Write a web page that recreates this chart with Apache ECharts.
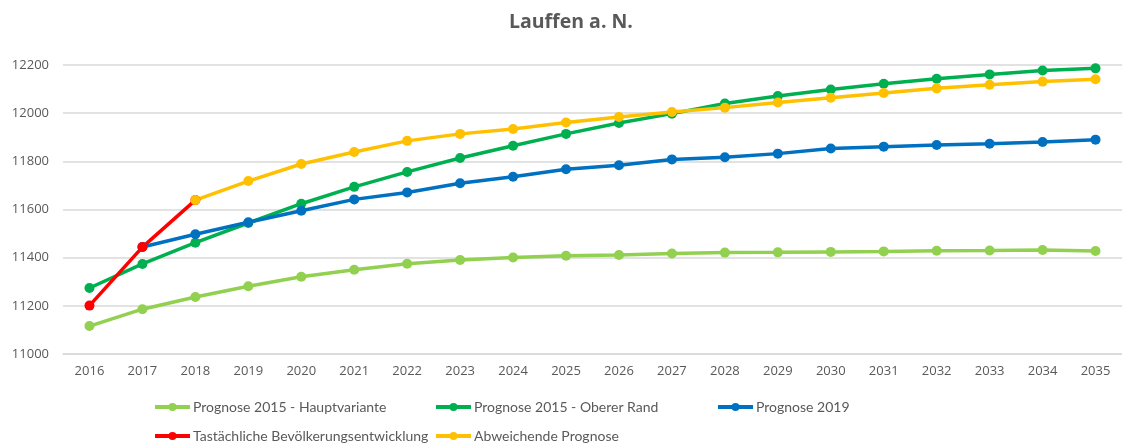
<!DOCTYPE html>
<html>
<head>
<meta charset="utf-8">
<script src="https://cdn.jsdelivr.net/npm/echarts@6/dist/echarts.min.js"></script>
<style>
html, body { margin: 0; padding: 0; background: #fff; }
#chart { width: 1122px; height: 445px; }
</style>
</head>
<body>
<div id="chart"></div>
<script>
var years = ['2016','2017','2018','2019','2020','2021','2022','2023','2024','2025',
	'2026','2027','2028','2029','2030','2031','2032','2033','2034','2035'];

var hauptvariante = [11116, 11186, 11237, 11281, 11321, 11350, 11375, 11390, 11401, 11408,
	11411, 11417, 11421, 11422, 11424, 11426, 11429, 11430, 11432, 11428];
var obererRand = [11274, 11374, 11462, 11544, 11624, 11694, 11756, 11814, 11865, 11914,
	11959, 11998, 12040, 12071, 12098, 12122, 12143, 12161, 12177, 12186];
var prognose2019 = [null, 11444, 11497, 11547, 11595, 11642, 11671, 11709, 11736, 11767,
	11784, 11808, 11817, 11832, 11853, 11861, 11868, 11873, 11880, 11890];
var tatsaechlich = [11201, 11444, 11639];
var abweichend = [null, null, 11639, 11718, 11789, 11839, 11885, 11914, 11934, 11961,
	11984, 12005, 12023, 12044, 12064, 12084, 12103, 12118, 12131, 12141];

var names = ['Prognose 2015 - Hauptvariante', 'Prognose 2015 - Oberer Rand', 'Prognose 2019',
	'Tastächliche Bevölkerungsentwicklung', 'Abweichende Prognose'];
var colors = ['#92D050', '#00B050', '#0070C0', '#FF0000', '#FFC000'];
var values = [hauptvariante, obererRand, prognose2019, tatsaechlich, abweichend];

var txt = '#595959';
var font = 'Open Sans, Liberation Sans, sans-serif';
var legendFont = 'Lato, sans-serif';

// legend laid out as 3 columns / 2 rows
var legendPos = [[153, 400], [434, 400], [716, 400], [153, 429], [434, 429]];
var legends = [];
var series = [];
for (var i = 0; i < names.length; i++) {
	legends.push({
		data: [names[i]],
		left: legendPos[i][0],
		top: legendPos[i][1],
		itemWidth: 35,
		itemHeight: 10,
		itemGap: 0,
		padding: 0,
		lineStyle: { width: 4 },
		textStyle: { color: txt, fontSize: 14, fontFamily: legendFont, padding: [0, 0, 0, -2] }
	});
	series.push({
		name: names[i],
		type: 'line',
		data: values[i],
		symbol: 'circle',
		symbolSize: 10,
		lineStyle: { width: 3.5, color: colors[i] },
		itemStyle: { color: colors[i] },
		emphasis: { disabled: true }
	});
}

var option = {
	animation: false,
	title: {
		text: 'Lauffen a. N.',
		left: 504,
		top: 7,
		textStyle: { color: txt, fontSize: 19.5, fontWeight: 'bold', fontFamily: font }
	},
	legend: legends,
	grid: { left: 63, right: -3, top: 65, bottom: 91 },
	xAxis: {
		type: 'category',
		data: years,
		boundaryGap: true,
		axisLine: { lineStyle: { color: '#d9d9d9', width: 1.5 } },
		axisTick: { show: false },
		axisLabel: { color: txt, fontSize: 13, fontFamily: font, margin: 11 }
	},
	yAxis: {
		type: 'value',
		min: 11000,
		max: 12200,
		interval: 200,
		axisLine: { show: false },
		axisTick: { show: false },
		axisLabel: { color: txt, fontSize: 13, fontFamily: font, margin: 14,
			formatter: function(v) { return String(v); } },
		splitLine: { lineStyle: { color: '#d9d9d9', width: 1.5 } }
	},
	series: series
};

var myChart = echarts.init(document.getElementById('chart'));
myChart.setOption(option);
</script>
</body>
</html>
